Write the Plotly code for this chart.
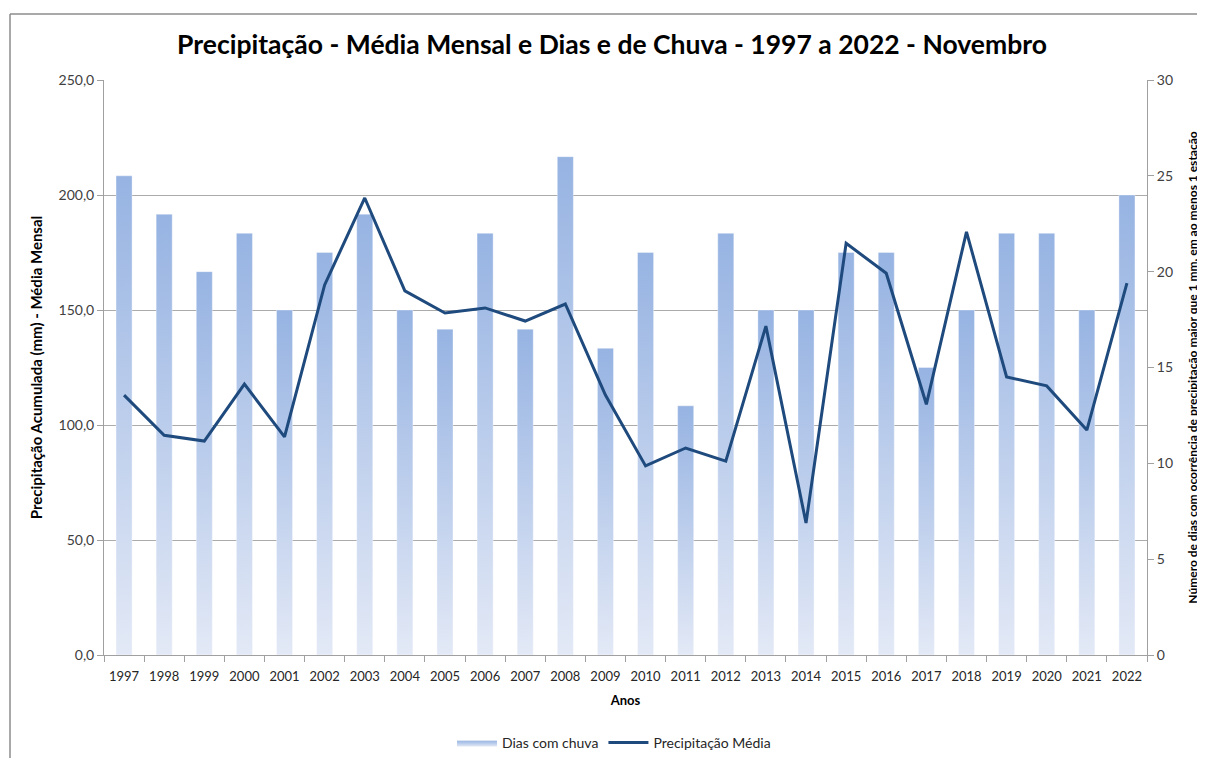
import plotly.graph_objects as go

anos = list(range(1997, 2023))
dias_chuva = [25, 23, 20, 22, 18, 21, 23, 18, 17, 22, 17, 26, 16, 21, 13, 22, 18, 18, 21, 21, 15, 18, 22, 22, 18, 24]
precip_media = [113.0, 95.5, 93.0, 117.8, 94.8, 160.9, 198.7, 158.3, 148.7, 150.9, 145.2, 152.6, 113.0,
                82.2, 90.0, 84.3, 143.0, 57.4, 179.0, 166.0, 109.0, 184.0, 120.9, 117.0, 97.8, 161.7]

# page body has an 8px margin; work in reference pixel coords and shift
OFF = 8
W, H = 1205 - OFF, 758 - OFF
pw, ph = 1043, 575
L, T = 104 - OFF, 80 - OFF
R, B = W - L - pw, H - T - ph

def px(x):
    return (x - OFF - L) / pw

def py(y):
    return (T + ph - (y - OFF)) / ph

font = "Lato"
fig = go.Figure()

half = 0.2
for i, (a, d) in enumerate(zip(anos, dias_chuva)):
    fig.add_trace(go.Scatter(
        x=[a - half, a + half, a + half, a - half, a - half],
        y=[0, 0, d, d, 0],
        yaxis="y",
        mode="lines",
        line=dict(width=0.6, color="rgba(255,255,255,0.6)"),
        fill="toself",
        fillgradient=dict(type="vertical", start=0, stop=d,
                          colorscale=[[0, "#E3E9F6"], [1, "#96B3E2"]]),
        name="Dias com chuva",
        legendgroup="dias",
        showlegend=(i == 0),
        hoverinfo="skip",
    ))

fig.add_trace(go.Scatter(
    x=anos, y=precip_media, mode="lines", yaxis="y2",
    line=dict(color="#1F4A7D", width=3),
    name="Precipitação Média",
))

fig.update_layout(
    width=W, height=H,
    margin=dict(l=L, r=R, t=T, b=B, autoexpand=False),
    paper_bgcolor="white", plot_bgcolor="white",
    separators=",.",
    font=dict(family=font, size=13, color="#404040"),
    title=dict(text="<b>Precipitação - Média Mensal e Dias e de Chuva - 1997 a 2022 - Novembro</b>",
               x=px(612), xref="paper", xanchor="center",
               y=1 - (45 - OFF) / H, yref="container", yanchor="middle",
               font=dict(family=font, size=26.5, color="black")),
    xaxis=dict(range=[1996.5, 2022.5], tickmode="array", tickvals=anos, automargin=False,
               ticktext=[str(a) for a in anos], ticks="outside", ticklen=9,
               tickcolor="rgba(0,0,0,0)", showgrid=False,
               showline=True, linecolor="#A0A0A0", linewidth=1, zeroline=False,
               tickfont=dict(size=13, color="#262626"),
               minor=dict(tickmode="array", tickvals=[a - 0.5 for a in anos] + [2022.5],
                          ticks="outside", ticklen=6, tickcolor="#A0A0A0", showgrid=False),
               title=dict(text="<b>Anos</b>", font=dict(size=13, color="black"), standoff=13)),
    yaxis=dict(range=[0, 30], tick0=0, dtick=5, side="right", automargin=False,
               showgrid=False, showline=True, linecolor="#A0A0A0", zeroline=False,
               ticks="outside", ticklen=6, tickcolor="#A0A0A0",
               tickfont=dict(size=14, color="#404040"),
               title=dict(text="<b>Número de dias com ocorrência de precipitação maior que 1 mm, em ao menos 1 estação</b>",
                          font=dict(size=12, color="black"), standoff=16)),
    yaxis2=dict(range=[0, 250], tick0=0, dtick=50, tickformat=".1f", overlaying="y", side="left",
                automargin=False,
                showgrid=True, gridcolor="#ABABAB", gridwidth=1,
                showline=True, linecolor="#A0A0A0", zeroline=False,
                ticks="outside", ticklen=6, tickcolor="#A0A0A0",
                tickfont=dict(size=14, color="#404040"),
                title=dict(text="<b>Precipitação Acumulada (mm) - Média Mensal</b>",
                           font=dict(size=15, color="black"), standoff=12)),
    legend=dict(orientation="h", x=px(614), xanchor="center", y=py(743), yanchor="middle",
                font=dict(size=14, color="#262626"), itemwidth=40),
    shapes=[
        dict(type="line", xref="paper", yref="paper", x0=px(10), x1=px(1215), y0=py(14), y1=py(14),
             line=dict(color="#8C8C8C", width=1.5)),
        dict(type="line", xref="paper", yref="paper", x0=px(10), x1=px(10), y0=py(14), y1=py(770),
             line=dict(color="#8C8C8C", width=1.5)),
    ],
)

fig.write_html("out.html")
